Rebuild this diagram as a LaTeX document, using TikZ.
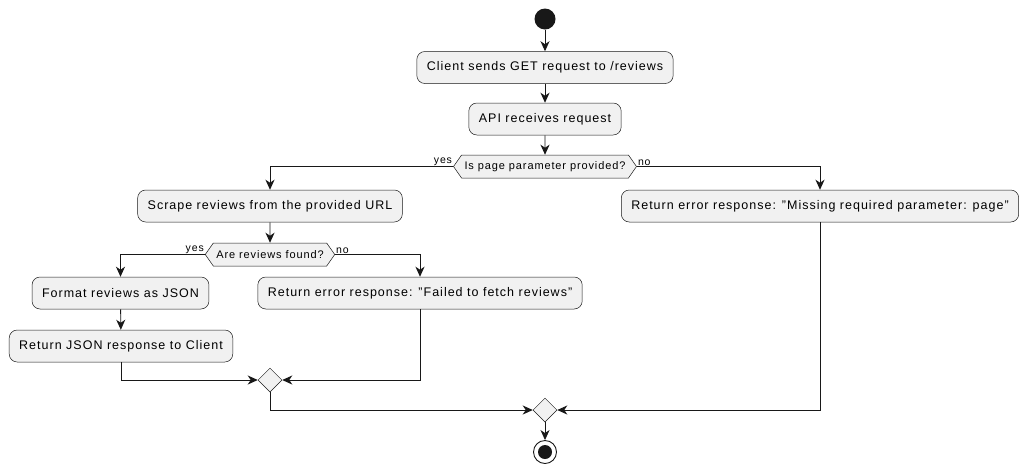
\documentclass[tikz,border=0pt]{standalone}
\usepackage{fontspec}
\setmainfont{Liberation Sans}[LetterSpace=8]
\usepackage{xcolor}
\usetikzlibrary{arrows.meta,shapes.geometric,shapes.symbols,positioning}
\definecolor{actfill}{HTML}{F1F1F1}
\definecolor{actline}{HTML}{181818}

\begin{document}
\begin{tikzpicture}[x=1pt, y=-1pt, font=\fontsize{12.5}{15}\selectfont,
    act/.style={draw=actline, fill=actfill, line width=0.5pt, rounded corners=8pt, minimum height=32pt, inner xsep=10pt},
    cond/.style={draw=actline, fill=actfill, line width=0.5pt, signal, signal to=west and east, signal pointer angle=110, minimum height=23pt, inner xsep=3pt, font=\fontsize{11}{13}\selectfont},
    merge/.style={draw=actline, fill=actfill, line width=0.5pt, diamond, minimum width=24pt, minimum height=24pt, inner sep=0pt},
    flow/.style={draw=actline, line width=0.9pt, -{Stealth[inset=3pt, length=10pt, width=9pt]}},
    lbl/.style={font=\fontsize{10.5}{12}\selectfont, inner sep=1pt}]
    \useasboundingbox[fill=white] (0,0) rectangle (1032,475);
    % start and stop
    \node[circle, fill=actline, minimum size=21pt, inner sep=0pt] (start) at (545,19) {};
    \node[circle, draw=actline, line width=0.9pt, minimum size=23pt, inner sep=0pt] (stop) at (545,452) {};
    \node[circle, fill=actline, minimum size=14pt, inner sep=0pt] (stopdot) at (stop) {};
    % actions
    \foreach \name/\x/\y/\txt in {client/545/67.5/{Client sends GET request to /reviews},
        api/545/119/{API receives request},
        scrape/270/206/{Scrape reviews from the provided URL},
        missing/820/206/{Return error response: "Missing required parameter: page"},
        format/120.5/293/{Format reviews as JSON},
        failed/420/293/{Return error response: "Failed to fetch reviews"},
        toclient/121/346/{Return JSON response to Client}}{\node[act] (\name) at (\x,\y) {\txt};}
    % decisions
    \node[cond] (page) at (545,166.5) {Is page parameter provided?};
    \node[cond] (found) at (270,254.5) {Are reviews found?};
    \node[lbl, anchor=south east] (pageyes) at (page.west) {yes};
    \node[lbl, anchor=south west] (pageno) at (page.east) {no};
    \node[lbl, anchor=south east] (foundyes) at (found.west) {yes};
    \node[lbl, anchor=south west] (foundno) at (found.east) {no};
    \node[merge] (mergeleft) at (270,380) {};
    \node[merge] (mergeall) at (545,410) {};
    % flow
    \draw[flow] (start) -- (client);
    \draw[flow] (client) -- (api);
    \draw[flow] (api) -- (page);
    \draw[flow] (page.west) -| (scrape);
    \draw[flow] (page.east) -| (missing);
    \draw[flow] (scrape) -- (found);
    \draw[flow] (found.west) -| (format);
    \draw[flow] (found.east) -| (failed);
    \draw[flow] (format) -- (toclient);
    \draw[flow] (toclient) |- (mergeleft);
    \draw[flow] (failed) |- (mergeleft);
    \draw[flow] (mergeleft) |- (mergeall);
    \draw[flow] (missing) |- (mergeall);
    \draw[flow] (mergeall) -- (stop);
\end{tikzpicture}
\end{document}
